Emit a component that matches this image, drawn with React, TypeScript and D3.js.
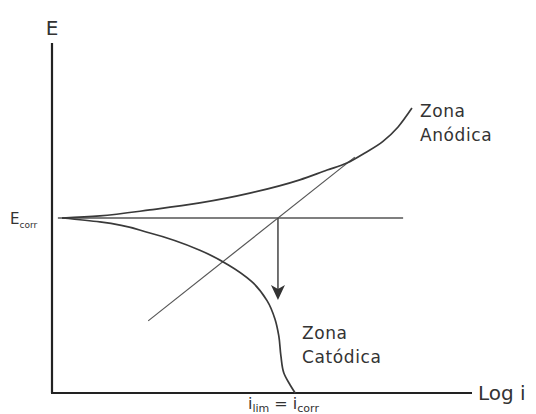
import React from "react";
import * as d3 from "d3";

// Polarization diagram: E vs log i, with anodic and cathodic branches
// (abstract units: x = log i on 0..100, y = E on 0..100)
const eCorr = 50;

const anodicLogI = [2.4, 11.4, 23.3, 35.2, 47.1, 59.0, 65.5, 70.2, 74.5, 78.8, 82.4, 85.7];
const anodicE = [50, 50.6, 52.3, 54.3, 57.1, 60.9, 63.7, 65.7, 68.6, 71.9, 76.0, 81.4];

const cathodicLogI = [2.4, 11.4, 23.3, 35.2, 42.0, 47.5, 51.2, 53.1, 54.0, 54.5, 55.2, 56.7, 57.9];
const cathodicE = [50, 48.9, 45.7, 40.8, 36.6, 31.9, 26.4, 21.1, 16.3, 10.6, 5.7, 2.3, 0];

// Tafel extrapolation of the anodic branch
const tafelLogI = [22.9, 72.1];
const tafelE = [20.6, 67.4];

// Corrosion potential reference line and the arrow down from the intersection
const eCorrLineLogI = [1.4, 83.6];
const arrowLogI = 53.8;
const arrowTipE = 26.6;

const W = 536;
const H = 414;

const x = d3.scaleLinear().domain([0, 100]).range([52, 472]);
const y = d3.scaleLinear().domain([0, 100]).range([393, 43]);

const zip = (xs: number[], ys: number[]) => xs.map((v, i) => [v, ys[i]] as [number, number]);

const anodicLine = d3
  .line<[number, number]>()
  .x((d) => x(d[0]))
  .y((d) => y(d[1]))
  .curve(d3.curveMonotoneX);

const cathodicLine = d3
  .line<[number, number]>()
  .x((d) => x(d[0]))
  .y((d) => y(d[1]))
  .curve(d3.curveMonotoneY);

const straight = d3
  .line<[number, number]>()
  .x((d) => x(d[0]))
  .y((d) => y(d[1]));

const FONT = "'DejaVu Sans', 'Liberation Sans', sans-serif";
const TEXT = "#333";

export default function App() {
  const ax = x(arrowLogI);
  const tipY = y(arrowTipE);
  const headH = 15;
  const headW = 7;
  const arrowHead = `M${ax},${tipY} L${ax - headW},${tipY - headH} L${ax},${tipY - headH + 4} L${ax + headW},${tipY - headH} Z`;

  return (
    <svg
      width={W}
      height={H}
      viewBox={`0 0 ${W} ${H}`}
      style={{ position: "absolute", left: 0, top: 0, background: "#fff" }}
    >
      <rect width={W} height={H} fill="#fff" />

      {/* axes */}
      <line x1={x(0)} y1={y(100)} x2={x(0)} y2={y(0)} stroke="#222" strokeWidth={2.2} />
      <line x1={x(0) - 1} y1={y(0)} x2={x(100)} y2={y(0)} stroke="#222" strokeWidth={2.2} />

      {/* E_corr line */}
      <path d={straight(zip(eCorrLineLogI, [eCorr, eCorr])) ?? ""} fill="none" stroke="#555" strokeWidth={1.5} />

      {/* Tafel extrapolation */}
      <path d={straight(zip(tafelLogI, tafelE)) ?? ""} fill="none" stroke="#555" strokeWidth={1.2} />

      {/* anodic and cathodic branches */}
      <path d={anodicLine(zip(anodicLogI, anodicE)) ?? ""} fill="none" stroke="#3a3a3a" strokeWidth={1.7} />
      <path d={cathodicLine(zip(cathodicLogI, cathodicE)) ?? ""} fill="none" stroke="#3a3a3a" strokeWidth={1.7} />

      {/* arrow from the intersection down to i_corr */}
      <line x1={ax} y1={y(eCorr)} x2={ax} y2={tipY - headH + 4} stroke="#444" strokeWidth={1.5} />
      <path d={arrowHead} fill="#333" />

      {/* labels */}
      <text x={x(0)} y={35} fontFamily={FONT} fontSize={20} fill={TEXT} textAnchor="middle">
        E
      </text>
      <text x={10} y={224} fontFamily={FONT} fontSize={15} fill={TEXT}>
        E
        <tspan fontSize={9} dy={4}>corr</tspan>
      </text>

      <text fontFamily={FONT} fontSize={17} fill={TEXT} letterSpacing={0.6}>
        <tspan x={420} y={117}>Zona</tspan>
        <tspan x={420} y={141}>Anódica</tspan>
      </text>
      <text fontFamily={FONT} fontSize={17} fill={TEXT} letterSpacing={0.6}>
        <tspan x={302} y={339}>Zona</tspan>
        <tspan x={302} y={363}>Catódica</tspan>
      </text>

      <text x={478} y={400} fontFamily={FONT} fontSize={20} fill={TEXT}>
        Log i
      </text>

      <text x={248} y={409} fontFamily={FONT} fontSize={16} fill={TEXT}>
        i
        <tspan fontSize={11} dy={3}>lim</tspan>
        <tspan dy={-3}> = i</tspan>
        <tspan fontSize={11} dy={3}>corr</tspan>
      </text>
    </svg>
  );
}
